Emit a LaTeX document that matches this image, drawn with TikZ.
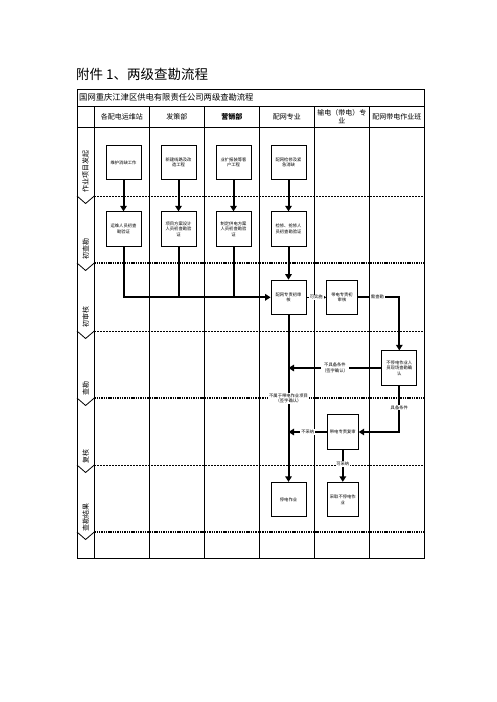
\documentclass[tikz,border=0pt]{standalone}
\usepackage{fontspec}
\setmainfont{Noto Sans CJK SC}
\usetikzlibrary{arrows.meta}
\begin{document}
\begin{tikzpicture}[x=1pt,y=-1pt,
 box/.style={draw, line width=0.8pt, fill=white, minimum width=35pt, minimum height=34.5pt, inner sep=0pt, align=center, font=\fontsize{4.3}{5.6}\selectfont},
 nbox/.style={box, minimum width=31pt},
 flow/.style={line width=2pt, -{Triangle[width=6.5pt,length=5.5pt]}},
 thick2/.style={line width=2pt},
 thinflow/.style={line width=0.7pt, -{Triangle[width=3pt,length=2.5pt]}},
 lab/.style={fill=white, inner sep=0.8pt, align=center, font=\fontsize{4.3}{5.4}\selectfont},
 hdr/.style={font=\fontsize{7}{8}\selectfont, align=center, inner sep=0pt},
 lanelab/.style={rotate=90, font=\fontsize{7}{8}\selectfont, inner sep=0pt},
 sepa/.style={line width=0.6pt, dash pattern=on 2pt off 1pt},
 sepb/.style={line width=1.2pt, dash pattern=on 1.4pt off 0.9pt},
 grid/.style={line width=0.8pt},
]
\useasboundingbox (0,0) rectangle (496,702);

% title
\node[anchor=west, inner sep=0pt, font=\fontsize{13.5}{15}\selectfont] (title) at (76,74) {附件 1、两级查勘流程};

% table frame
\draw[grid] (77,89) rectangle (424.3,558.3);
\draw[grid] (77,106) -- (424.3,106);
\draw[grid] (77,127) -- (424.3,127);
\node[anchor=west, inner sep=0pt, font=\fontsize{8.3}{9}\selectfont] (ttl) at (79,97.5) {国网重庆江津区供电有限责任公司两级查勘流程};

% separators
\draw[sepa] (94.3,196) -- (424.3,196);
\draw[sepb] (94.3,263) -- (424.3,263);
\draw[sepa] (94.3,331) -- (424.3,331);
\draw[sepb] (94.3,398) -- (424.3,398);
\draw[sepa] (94.3,465) -- (424.3,465);
\draw[sepb] (94.3,532) -- (424.3,532);

% column lines
\foreach \x in {94.3,149.3,204.3,259.3,314.3,369.3} {
  \draw[grid] (\x,106) -- (\x,558.3);
}

% chevrons
\foreach \y in {196,263,331,398,465,532} {
  \draw[grid] (77,\y) -- (85.6,\y+7.5) -- (94.3,\y);
}

% header
\node[hdr] (h1) at (121.8,116.5) {各配电运维站};
\node[hdr] (h2) at (176.8,116.5) {发策部};
\node[hdr, font=\fontsize{7}{8}\selectfont\bfseries] (h3) at (231.8,116.5) {营销部};
\node[hdr] (h4) at (286.8,116.5) {配网专业};
\node[hdr, font=\fontsize{7}{7.8}\selectfont] (h5) at (341.8,116.5) {输电（带电）专\\业};
\node[hdr] (h6) at (396.8,116.5) {配网带电作业班};

% lane labels
\node[lanelab] (l1) at (85.6,171) {作业项目发起};
\node[lanelab] (l2) at (85.6,249) {初查勘};
\node[lanelab] (l3) at (85.6,317) {初审核};
\node[lanelab] (l4) at (85.6,388) {查勘};
\node[lanelab] (l5) at (85.6,456) {复核};
\node[lanelab] (l6) at (85.6,517) {查勘结果};

% boxes
\node[box] (a1) at (123.5,162.5) {维护消缺工作};
\node[box] (a2) at (178.5,162.5) {新建线路及改\\造工程};
\node[box] (a3) at (233.5,162.5) {业扩报装等客\\户工程};
\node[box] (a4) at (288.5,162.5) {配网检修及紧\\急消缺};
\node[box] (b1) at (123.5,229) {运维人员初查\\勘验证};
\node[box] (b2) at (178.5,229) {项目方案设计\\人员初查勘验\\证};
\node[box] (b3) at (233.5,229) {制定供电方案\\人员初查勘验\\证};
\node[box] (b4) at (288.5,229) {检修、抢修人\\员初查勘验证};
\node[box] (c1) at (288.5,297.3) {配网专责初审\\核};
\node[nbox] (c2) at (342,297.3) {带电专责初\\审核};
\node[box] (d1) at (399.3,368) {不停电作业人\\员现场查勘确\\认};
\node[nbox] (e1) at (342.8,432) {带电专责复审};
\node[box] (f1) at (288.5,499.5) {停电作业};
\node[nbox] (f2) at (342.8,499.5) {采取不停电作\\业};

% connectors
\draw[flow] (a1) -- (b1);
\draw[flow] (a2) -- (b2);
\draw[flow] (a3) -- (b3);
\draw[flow] (a4) -- (b4);
\draw[thick2] (b2.south) -- (b2.south |- c1.west);
\draw[thick2] (b3.south) -- (b3.south |- c1.west);
\draw[flow] (b1.south) |- (c1.west);
\draw[flow] (b4) -- (c1);
\draw[thinflow] (c1) -- node[lab]{可实施} (c2);
\draw[flow] (c2.east) -| node[lab,pos=0.236]{需查勘} (d1.north);
\coordinate (j1) at (c1.south |- d1.west);
\coordinate (j2) at (c1.south |- e1.west);
\draw[flow] (c1) -- node[lab]{不属于带电作业项目\\（签字确认）} (f1);
\draw[flow] (d1) -- node[lab]{不具备条件\\（签字确认）} (j1);
\draw[flow] (d1.south) |- node[lab,pos=0.235]{具备条件} (e1.east);
\draw[flow] (e1) -- node[lab]{不采纳} (j2);
\draw[flow] (e1) -- node[lab,pos=0.45]{可采纳} (f2);
\end{tikzpicture}
\end{document}
